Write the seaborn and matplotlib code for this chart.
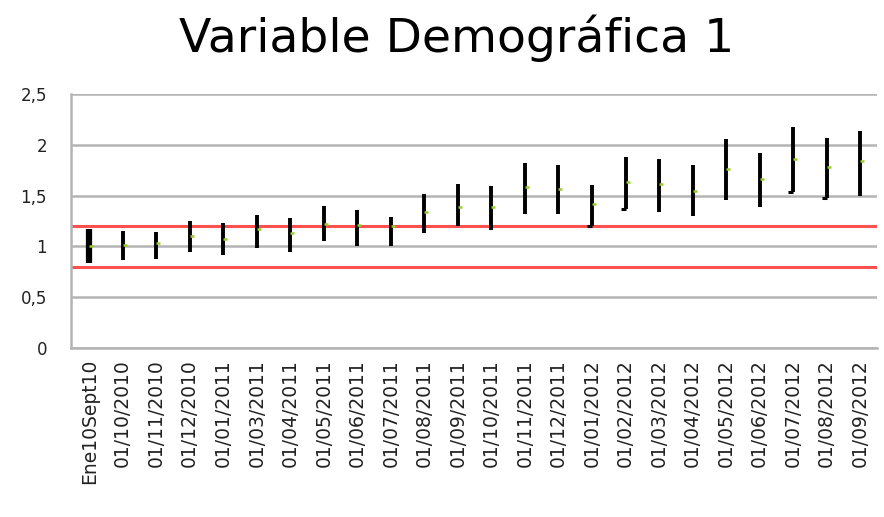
#importing the libraries
import pandas as pd
import numpy as np
import matplotlib
matplotlib.use("Agg")
import matplotlib.pyplot as plt
from matplotlib.path import Path
import seaborn as sns

#data
fechas = ['Ene10Sept10', '01/10/2010', '01/11/2010', '01/12/2010',
          '01/01/2011', '01/03/2011', '01/04/2011', '01/05/2011',
          '01/06/2011', '01/07/2011', '01/08/2011', '01/09/2011',
          '01/10/2011', '01/11/2011', '01/12/2011', '01/01/2012',
          '01/02/2012', '01/03/2012', '01/04/2012', '01/05/2012',
          '01/06/2012', '01/07/2012', '01/08/2012', '01/09/2012']
maximo = [1.17, 1.15, 1.145, 1.25, 1.23, 1.31, 1.28, 1.40,
          1.36, 1.29, 1.52, 1.61, 1.59, 1.825, 1.80, 1.605,
          1.88, 1.86, 1.805, 2.055, 1.92, 2.18, 2.065, 2.14]
minimo = [0.84, 0.87, 0.88, 0.94, 0.92, 0.98, 0.94, 1.055,
          1.00, 1.005, 1.135, 1.20, 1.16, 1.32, 1.32, 1.20,
          1.365, 1.335, 1.30, 1.455, 1.385, 1.54, 1.48, 1.495]
cierre = [1.00, 1.01, 1.03, 1.105, 1.07, 1.17, 1.13, 1.22,
          1.21, 1.20, 1.335, 1.39, 1.39, 1.585, 1.57, 1.42,
          1.63, 1.61, 1.55, 1.76, 1.665, 1.86, 1.78, 1.84]
apertura = [np.nan] * 15 + [1.20, 1.365] + [np.nan] * 4 + [1.54, 1.48, np.nan]
limite_sup = 1.2
limite_inf = 0.8

df = pd.DataFrame({'fecha': fechas, 'max': maximo, 'min': minimo,
                   'cierre': cierre, 'apertura': apertura})
df['pos'] = np.arange(len(df))

sns.set_theme(style="white")
plt.rcParams['font.family'] = ['DejaVu Sans']

fig = plt.figure(figsize=(8.84, 5.17), dpi=100)
ax = fig.add_axes([0.080, 0.327, 0.912, 0.491])

#gridlines
ax.set_yticks([0, 0.5, 1, 1.5, 2, 2.5])
ax.set_yticklabels(['0', '0,5', '1', '1,5', '2', '2,5'], fontsize=12, color='#222222')
ax.yaxis.grid(True, color='#b4b4b4', linewidth=1.8)
ax.set_axisbelow(True)

#limits
ax.axhline(limite_sup, color='#ff5050', linewidth=2.2)
ax.axhline(limite_inf, color='#ff5050', linewidth=2.2)

#high-low bars (first one is drawn thicker in the original)
anchos = [4.5] + [2.8] * (len(df) - 1)
ax.vlines(df['pos'], df['min'], df['max'], color='black', linewidths=anchos, zorder=3)

#close ticks on the right, open ticks on the left
derecha = Path([(0, 0), (1, 0)], [Path.MOVETO, Path.LINETO])
izquierda = Path([(0, 0), (-1, 0)], [Path.MOVETO, Path.LINETO])
sns.scatterplot(data=df, x='pos', y='cierre', marker=derecha, s=36, color='#9acd32',
                edgecolor='#9acd32', linewidth=1.8, ax=ax, zorder=4, legend=False)
sns.scatterplot(data=df.dropna(), x='pos', y='apertura', marker=izquierda, s=50, color='black',
                edgecolor='black', linewidth=2.2, ax=ax, zorder=4, legend=False)

ax.set_xlim(-0.55, 23.5)
ax.set_ylim(0, 2.5)
ax.set_xticks(df['pos'])
ax.set_xticklabels(df['fecha'], rotation=90, fontsize=13.5, color='#222222')
ax.tick_params(axis='x', length=0, pad=8)
ax.tick_params(axis='y', length=0, pad=17)
ax.set_xlabel('')
ax.set_ylabel('')

for s in ['top', 'right']:
    ax.spines[s].set_visible(False)
for s in ['left', 'bottom']:
    ax.spines[s].set_color('#b4b4b4')
    ax.spines[s].set_linewidth(1.8)

fig.text(0.516, 0.899, 'Variable Demográfica 1', fontsize=34, color='black',
         ha='center', va='baseline')

plt.savefig('out.png', dpi=100)
